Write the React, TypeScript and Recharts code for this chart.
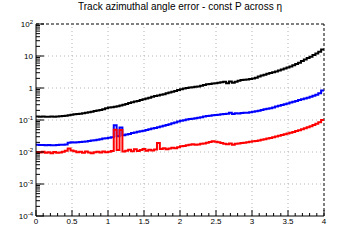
import React from 'react';
import { LineChart, Line, XAxis, YAxis, ReferenceLine } from 'recharts';

// 100 bins of width 0.04 over [0, 4]
const BIN_WIDTH = 0.04;

const BLACK = [
    0.128, 0.127, 0.128, 0.126, 0.127, 0.128, 0.127, 0.129, 0.131, 0.133,
    0.136, 0.14, 0.146, 0.15, 0.155, 0.158, 0.164, 0.17, 0.175, 0.181,
    0.19, 0.198, 0.206, 0.218, 0.232, 0.245, 0.252, 0.258, 0.268, 0.285,
    0.3, 0.318, 0.34, 0.36, 0.378, 0.395, 0.42, 0.445, 0.47, 0.5,
    0.53, 0.56, 0.585, 0.61, 0.64, 0.68, 0.72, 0.76, 0.81, 0.86,
    0.92, 0.96, 1.0, 1.04, 1.06, 1.09, 1.12, 1.18, 1.25, 1.3,
    1.34, 1.38, 1.42, 1.46, 1.5, 1.56, 1.42, 1.6, 1.47, 1.58,
    1.7, 1.78, 1.82, 1.86, 1.92, 1.98, 2.1, 2.3, 2.45, 2.6,
    2.8, 2.95, 3.1, 3.3, 3.55, 3.8, 4.1, 4.4, 4.7, 5.1,
    5.6, 6.2, 7.0, 7.8, 8.6, 9.5, 10.8, 12.0, 13.5, 16.0,
];

const BLUE = [
    0.0168, 0.0166, 0.0165, 0.0163, 0.0166, 0.0164, 0.0162, 0.0165, 0.0167, 0.017,
    0.0172, 0.0195, 0.02, 0.0198, 0.0202, 0.0205, 0.021, 0.0214, 0.022, 0.0228,
    0.0235, 0.0242, 0.025, 0.0262, 0.027, 0.028, 0.029, 0.069, 0.0308, 0.058,
    0.0335, 0.035, 0.0368, 0.039, 0.041, 0.0428, 0.0445, 0.0465, 0.0488, 0.0512,
    0.054, 0.0565, 0.0595, 0.0625, 0.066, 0.07, 0.074, 0.079, 0.084, 0.089,
    0.094, 0.099, 0.103, 0.107, 0.11, 0.113, 0.117, 0.122, 0.128, 0.133,
    0.137, 0.14, 0.143, 0.146, 0.15, 0.154, 0.158, 0.168, 0.154, 0.162,
    0.16, 0.165, 0.168, 0.17, 0.175, 0.18, 0.188, 0.196, 0.205, 0.215,
    0.225, 0.235, 0.248, 0.262, 0.278, 0.295, 0.31, 0.33, 0.35, 0.37,
    0.395, 0.42, 0.445, 0.47, 0.5, 0.53, 0.57, 0.62, 0.69, 0.84,
];

const RED = [
    0.01, 0.0096, 0.0102, 0.0094, 0.0098, 0.0092, 0.01, 0.0095, 0.0097, 0.0102,
    0.011, 0.0128, 0.0112, 0.0105, 0.0098, 0.0101, 0.0095, 0.0103, 0.0097, 0.0092,
    0.0099, 0.0102, 0.0096, 0.0104, 0.0099, 0.0101, 0.0108, 0.05, 0.0115, 0.049,
    0.0103, 0.011, 0.0118, 0.0105, 0.0122, 0.0108, 0.0115, 0.0125, 0.011, 0.0118,
    0.0112, 0.012, 0.019, 0.0125, 0.013, 0.0122, 0.0128, 0.0135, 0.013, 0.014,
    0.015, 0.0155, 0.0162, 0.0168, 0.0175, 0.017, 0.0172, 0.018, 0.0185, 0.0195,
    0.0205, 0.0215, 0.021, 0.02, 0.019, 0.018, 0.0175, 0.0185, 0.017, 0.018,
    0.0185, 0.019, 0.0195, 0.02, 0.021, 0.0215, 0.0222, 0.023, 0.024, 0.025,
    0.0262, 0.0275, 0.029, 0.0305, 0.032, 0.034, 0.036, 0.038, 0.04, 0.0425,
    0.045, 0.048, 0.051, 0.055, 0.059, 0.064, 0.07, 0.076, 0.085, 0.1,
];

const X_MAJOR = [0, 0.5, 1, 1.5, 2, 2.5, 3, 3.5, 4];
const Y_MAJOR = [1e-4, 1e-3, 1e-2, 1e-1, 1, 10, 100];

// minor ticks: every 0.1 on x, 2..9 per decade on y
const X_TICKS: number[] = [];
for (let i = 0; i <= 40; i++) X_TICKS.push(i / 10);
const Y_TICKS: number[] = [];
for (let k = -4; k < 2; k++) for (let m = 1; m < 10; m++) Y_TICKS.push(m * Math.pow(10, k));
Y_TICKS.push(100);

const rows = BLACK.map((b, i) => ({
    x: Math.round(i * BIN_WIDTH * 100) / 100,
    black: b,
    blue: BLUE[i],
    red: RED[i],
}));
// close the last bin at the right edge
rows.push({ ...rows[rows.length - 1], x: 4 });

const FONT = '"Liberation Sans", Arial, sans-serif';

const isMajorX = (v: number) => X_MAJOR.some((m) => Math.abs(m - v) < 1e-6);
const isMajorY = (v: number) => Y_MAJOR.some((m) => Math.abs(m - v) / m < 1e-6);

const XTick = (props: any) => {
    const { x, y, payload } = props;
    const v = payload.value;
    const major = isMajorX(v);
    return (
        <g>
            <line x1={x} x2={x} y1={y} y2={y - (major ? 6 : 3)} stroke="#000" />
            {major && (
                <text x={x} y={y + 8} textAnchor="middle" fontSize={8} fontFamily={FONT} fill="#000">
                    {String(Number(v.toFixed(1)))}
                </text>
            )}
        </g>
    );
};

const YTick = (props: any) => {
    const { x, y, payload } = props;
    const v = payload.value;
    const major = isMajorY(v);
    const exp = Math.round(Math.log10(v));
    return (
        <g>
            <line x1={x} x2={x + (major ? 8 : 4)} y1={y} y2={y} stroke="#000" />
            {major && (
                <text x={x - 3} y={y + 3} textAnchor="end" fontSize={8} fontFamily={FONT} fill="#000">
                    {exp === 0 ? '1' : exp === 1 ? '10' : (
                        <>
                            10
                            <tspan dy={-3} fontSize={6}>{String(exp)}</tspan>
                        </>
                    )}
                </text>
            )}
        </g>
    );
};

export default function App() {
    return (
        <div style={{ position: 'absolute', left: 0, top: 0, width: 360, height: 240, background: '#fff', fontFamily: FONT }}>
            <div style={{ position: 'absolute', left: 0, top: 2, width: 360, textAlign: 'center', fontSize: 10, lineHeight: '10px', color: '#000' }}>
                Track azimuthal angle error - const P across η
            </div>
            <LineChart width={360} height={240} data={rows} margin={{ top: 24, right: 36, bottom: 0, left: 0 }}>
                <XAxis
                    type="number"
                    dataKey="x"
                    domain={[0, 4]}
                    ticks={X_TICKS}
                    interval={0}
                    tickSize={0}
                    tickMargin={0}
                    tickLine={false}
                    tick={XTick}
                    axisLine={{ stroke: '#000' }}
                    height={24}
                    allowDataOverflow
                />
                <YAxis
                    type="number"
                    scale="log"
                    domain={[1e-4, 100]}
                    ticks={Y_TICKS}
                    interval={0}
                    tickSize={0}
                    tickMargin={0}
                    tickLine={false}
                    tick={YTick}
                    axisLine={{ stroke: '#000' }}
                    width={36}
                    allowDataOverflow
                />
                {X_MAJOR.slice(1, -1).map((v) => (
                    <ReferenceLine key={`gx-${v}`} x={v} stroke="#b4b4b4" strokeDasharray="1 3" />
                ))}
                {Y_MAJOR.slice(1, -1).map((v) => (
                    <ReferenceLine key={`gy-${v}`} y={v} stroke="#b4b4b4" strokeDasharray="1 3" />
                ))}
                <ReferenceLine y={100} stroke="#000" strokeDasharray="3 2" />
                <ReferenceLine x={4} stroke="#000" strokeDasharray="3 2" />
                <Line type="stepAfter" dataKey="black" stroke="#000" strokeWidth={2} dot={false} isAnimationActive={false} />
                <Line type="stepAfter" dataKey="blue" stroke="#0000ff" strokeWidth={2} dot={false} isAnimationActive={false} />
                <Line type="stepAfter" dataKey="red" stroke="#ff0000" strokeWidth={2} dot={false} isAnimationActive={false} />
            </LineChart>
        </div>
    );
}
